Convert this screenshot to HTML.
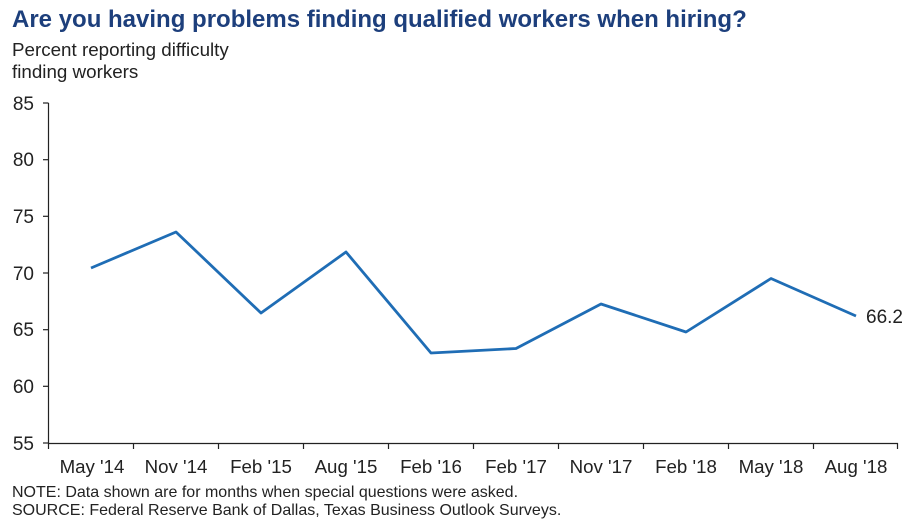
<!DOCTYPE html>
<html><head><meta charset="utf-8"><style>
html,body{margin:0;padding:0;background:#fff;}
svg{display:block;font-family:"Liberation Sans",Arial,sans-serif;}
</style></head><body>
<svg width="918" height="527" viewBox="0 0 918 527" xmlns="http://www.w3.org/2000/svg">
<text x="12" y="27" font-size="24" font-weight="bold" fill="#1d3f7c">Are you having problems finding qualified workers when hiring?</text>
<text x="12" y="56" font-size="18.8" fill="#222">Percent reporting difficulty</text>
<text x="12" y="78" font-size="18.8" fill="#222">finding workers</text>
<g stroke="#222" stroke-width="1.2" fill="none">
<line x1="48.5" y1="103" x2="48.5" y2="443.5"/>
<line x1="48" y1="443.5" x2="898" y2="443.5"/>
<line x1="43" y1="103" x2="48.5" y2="103"/>
<line x1="43" y1="159.7" x2="48.5" y2="159.7"/>
<line x1="43" y1="216.3" x2="48.5" y2="216.3"/>
<line x1="43" y1="273" x2="48.5" y2="273"/>
<line x1="43" y1="329.7" x2="48.5" y2="329.7"/>
<line x1="43" y1="386.3" x2="48.5" y2="386.3"/>
<line x1="43" y1="443" x2="48.5" y2="443"/>
<line x1="48.5" y1="443" x2="48.5" y2="449"/>
<line x1="133.5" y1="443" x2="133.5" y2="449"/>
<line x1="218.5" y1="443" x2="218.5" y2="449"/>
<line x1="303.5" y1="443" x2="303.5" y2="449"/>
<line x1="388.5" y1="443" x2="388.5" y2="449"/>
<line x1="473.5" y1="443" x2="473.5" y2="449"/>
<line x1="558.5" y1="443" x2="558.5" y2="449"/>
<line x1="643.5" y1="443" x2="643.5" y2="449"/>
<line x1="728.5" y1="443" x2="728.5" y2="449"/>
<line x1="813.5" y1="443" x2="813.5" y2="449"/>
<line x1="897.5" y1="443" x2="897.5" y2="449"/>
</g>
<g font-size="19" fill="#222" text-anchor="end">
<text x="34" y="110">85</text>
<text x="34" y="166">80</text>
<text x="34" y="223">75</text>
<text x="34" y="280">70</text>
<text x="34" y="336">65</text>
<text x="34" y="393">60</text>
<text x="34" y="450">55</text>
</g>
<g font-size="18.7" fill="#222" text-anchor="middle">
<text x="92" y="473">May '14</text>
<text x="176" y="473">Nov '14</text>
<text x="261" y="473">Feb '15</text>
<text x="346" y="473">Aug '15</text>
<text x="431" y="473">Feb '16</text>
<text x="516" y="473">Feb '17</text>
<text x="601" y="473">Nov '17</text>
<text x="686" y="473">Feb '18</text>
<text x="771" y="473">May '18</text>
<text x="856" y="473">Aug '18</text>
</g>
<polyline fill="none" stroke="#1f6db5" stroke-width="2.8" stroke-linejoin="round"
points="91,268 176,232 261,313 346,252 431,353 516,348.5 601,304 686,332 771,278.5 856,316"/>
<text x="866" y="323" font-size="19" fill="#222">66.2</text>
<text x="12" y="497" font-size="16" fill="#222">NOTE: Data shown are for months when special questions were asked.</text>
<text x="12" y="515" font-size="16" fill="#222">SOURCE: Federal Reserve Bank of Dallas, Texas Business Outlook Surveys.</text>
</svg>
</body></html>
